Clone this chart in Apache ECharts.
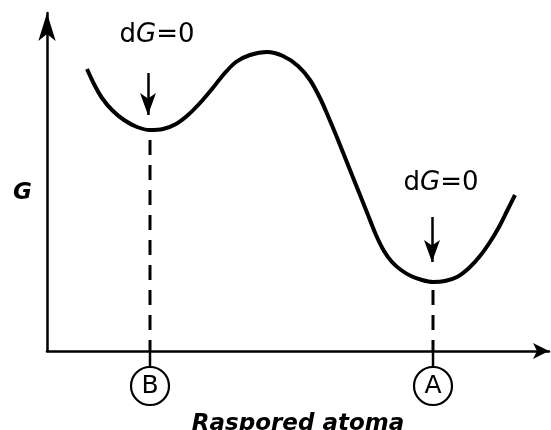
<!DOCTYPE html>
<html>
<head>
<meta charset="utf-8">
<script src="https://cdn.jsdelivr.net/npm/echarts@6/dist/echarts.min.js"></script>
<style>
html,body{margin:0;padding:0;background:#fff;}
#chartG{width:551px;height:430px;}
</style>
</head>
<body>
<div id="chartG"></div>
<script>
// curve G(x)
var curveX = [8.0, 9.4, 11.0, 13.0, 15.4, 18.0, 20.6, 23.2, 25.8, 28.2, 30.6, 33.0, 35.4, 37.8,
              40.6, 44.0, 47.2, 50.2, 52.6, 54.6, 56.2, 57.8, 59.4, 61.0, 62.6, 64.2, 65.8,
              67.4, 69.0, 70.8, 72.8, 75.0, 77.2, 79.6, 82.0, 84.4, 86.6, 88.6, 90.4, 92.0, 93.6];
var curveG = [56.4, 53.4, 50.6, 48.2, 46.2, 44.8, 44.2, 44.4, 45.4, 47.2, 49.6, 52.4, 55.4, 57.8,
              59.2, 59.8, 59.0, 57.0, 54.2, 50.6, 47.0, 43.2, 39.2, 35.2, 31.2, 27.2, 23.2,
              20.0, 17.8, 16.2, 15.0, 14.2, 13.8, 14.0, 14.8, 16.6, 19.0, 21.8, 24.8, 28.0, 31.2];

// the two minima (B, A)
var minNames = ['B', 'A'];
var minX = [20.6, 77.2];
var dashTop = [42.2, 12.2];

// dG=0 labels and their arrows
var noteText = ['dG=0', 'dG=0'];
var noteX = [22.0, 78.8];
var noteY = [63.2, 33.6];
var arrowX = [20.2, 77.0];
var arrowTop = [55.6, 26.8];
var arrowBottom = [47.2, 17.8];

var xName = 'Raspored atoma';
var yName = 'G';

var myChart = echarts.init(document.getElementById('chartG'));

var series = [];
series.push({
    type: 'line',
    data: curveX.map(function (x, i) { return [x, curveG[i]]; }),
    smooth: 0.3,
    showSymbol: false,
    lineStyle: { color: '#000', width: 4 },
    z: 3
});
minX.forEach(function (x, i) {
    // dashed drop line
    series.push({
        type: 'line',
        data: [[x, dashTop[i]], [x, 0]],
        showSymbol: false,
        lineStyle: { color: '#000', width: 3, type: [15, 10] },
        z: 2
    });
    // small solid tick under the axis
    series.push({
        type: 'line',
        data: [[x, 0], [x, -3.3]],
        showSymbol: false,
        clip: false,
        lineStyle: { color: '#000', width: 2.5 },
        z: 2
    });
});
// circled letters
series.push({
    type: 'scatter',
    clip: false,
    data: minX.map(function (x, i) { return { value: [x, -7], name: minNames[i] }; }),
    symbol: 'circle',
    symbolSize: 38,
    itemStyle: { color: '#fff', borderColor: '#000', borderWidth: 2.2, opacity: 1 },
    label: {
        show: true,
        position: 'inside',
        formatter: '{b}',
        color: '#000',
        fontFamily: 'DejaVu Sans',
        fontSize: 25
    },
    z: 5
});
// dG=0 texts
series.push({
    type: 'scatter',
    data: noteX.map(function (x, i) { return { value: [x, noteY[i]], name: noteText[i] }; }),
    symbolSize: 0,
    itemStyle: { opacity: 1 },
    label: {
        show: true,
        position: 'inside',
        formatter: function (p) {
            return '{n|' + p.name.charAt(0) + '}{i|' + p.name.charAt(1) + '}{n|' + p.name.slice(2) + '}';
        },
        rich: {
            n: { fontFamily: 'DejaVu Sans', fontSize: 26, color: '#000' },
            i: { fontFamily: 'DejaVu Sans', fontSize: 26, fontStyle: 'italic', color: '#000' }
        }
    },
    z: 5
});
// down arrows
series.push({
    type: 'line',
    data: [],
    markLine: {
        silent: true,
        symbol: ['none', 'arrow'],
        symbolSize: [12, 22],
        label: { show: false },
        lineStyle: { color: '#000', width: 2.5, type: 'solid' },
        data: arrowX.map(function (x, i) {
            return [{ coord: [x, arrowTop[i]] }, { coord: [x, arrowBottom[i]] }];
        })
    }
});

var option = {
    backgroundColor: '#fff',
    animation: false,
    grid: { left: 47, right: 2, top: 13, bottom: 79, containLabel: false, outerBoundsMode: 'none' },
    xAxis: {
        type: 'value',
        min: 0,
        max: 100.4,
        name: xName,
        nameLocation: 'middle',
        nameGap: 62,
        nameTextStyle: {
            fontFamily: 'DejaVu Sans', fontSize: 23, fontWeight: 'bold', fontStyle: 'italic', color: '#000'
        },
        axisLine: {
            show: true,
            symbol: ['none', 'arrow'],
            symbolSize: [12, 16],
            lineStyle: { color: '#000', width: 2.5 }
        },
        axisTick: { show: false },
        axisLabel: { show: false },
        splitLine: { show: false }
    },
    yAxis: {
        type: 'value',
        min: 0,
        max: 67.6,
        name: yName,
        nameLocation: 'middle',
        nameRotate: 0,
        nameGap: 15,
        nameTextStyle: {
            fontFamily: 'DejaVu Sans', fontSize: 23, fontWeight: 'bold', fontStyle: 'italic', color: '#000',
            verticalAlign: 'top'
        },
        axisLine: {
            show: true,
            symbol: ['none', 'arrow'],
            symbolSize: [13, 28],
            lineStyle: { color: '#000', width: 2.5 }
        },
        axisTick: { show: false },
        axisLabel: { show: false },
        splitLine: { show: false }
    },
    series: series
};
myChart.setOption(option);
</script>
</body>
</html>
